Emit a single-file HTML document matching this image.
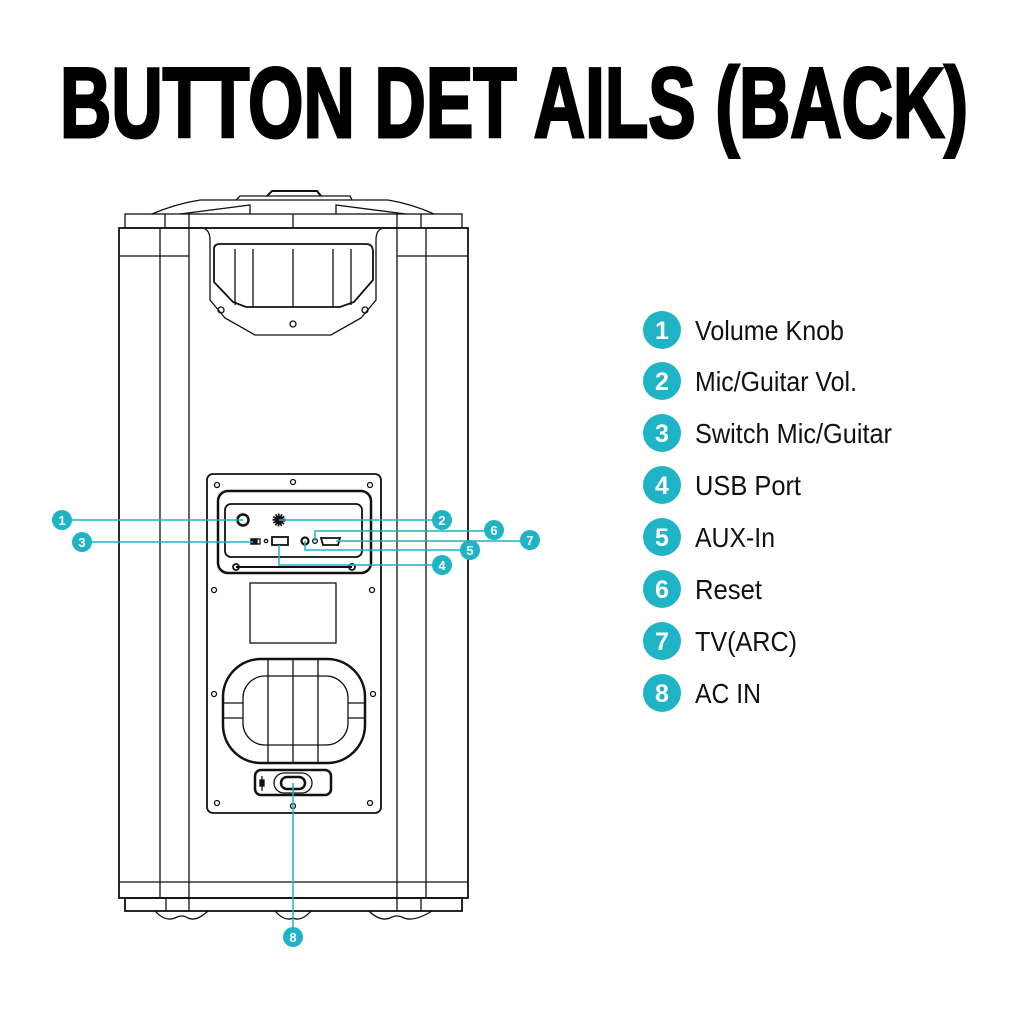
<!DOCTYPE html>
<html><head><meta charset="utf-8"><style>
html,body{margin:0;padding:0;background:#fff;width:1024px;height:1024px;overflow:hidden}
svg{display:block}
text{font-family:"Liberation Sans",sans-serif}
</style></head><body>
<svg width="1024" height="1024" viewBox="0 0 1024 1024" xmlns="http://www.w3.org/2000/svg">
<rect width="1024" height="1024" fill="#fff"/>
<text x="60" y="137" font-size="99" font-weight="bold" textLength="908" lengthAdjust="spacingAndGlyphs" stroke="#000" stroke-width="3">BUTTON DET AILS (BACK)</text>

<g fill="none" stroke="#111" stroke-width="1.3">
<!-- top knob / cap -->
<path d="M236 200 L240 196 L350 196 L352 200"/>
<path d="M267 196 L272 191 L317 191 L321 196" stroke-width="2"/>
<path d="M152 214 Q175 204 200 200 L388 200 Q412 204 434 214"/>
<path d="M180 214 L250 205 L250 214 M406 214 L336 205 L336 214"/>
<rect x="125" y="214" width="337" height="14"/>
<path d="M165 214 V228 M189 214 V228 M293 214 V228 M397 214 V228 M421 214 V228"/>
<!-- body -->
<rect x="119" y="228" width="349" height="670" stroke-width="1.8"/>
<path d="M160 228 V898 M189 228 V898 M397 228 V898 M426 228 V898"/>
<path d="M119 256 H189 M397 256 H468"/>
<path d="M119 882 H468"/>
<rect x="125" y="898" width="337" height="13" stroke-width="1.8"/>
<path d="M166 898 V911 M189 898 V911 M397 898 V911 M421 898 V911"/>
<path d="M155 911 Q165 922 175 918 Q182 914 188 918 Q196 922 208 911 M275 911 Q285 922 293 918 Q301 922 311 911 M369 911 Q380 922 390 918 Q397 914 404 918 Q414 922 432 911"/>
<!-- top handle -->
<path d="M189 228 H203 Q210 230 210 240 L210 300 L225 318 L255 335 L331 335 L361 318 L376 300 L376 240 Q376 230 383 228 H397"/>
<path d="M214 249 Q214 244 220 244 L366 244 Q373 244 373 252 L373 280 L354 302 L340 307 L246 307 L233 302 L214 282 Z" stroke-width="1.8"/>
<path d="M235 249 V305 M253 249 V307 M293 249 V307 M333 249 V307 M351 249 V305"/>
<circle cx="221" cy="310" r="3"/><circle cx="293" cy="324" r="3"/><circle cx="365" cy="310" r="3"/>
<!-- back panel -->
<rect x="207" y="474" width="174" height="339" rx="6" stroke-width="1.8"/>
<rect x="218" y="491" width="153" height="82" rx="10" stroke-width="2.5"/>
<rect x="225" y="504" width="137" height="53" rx="6" stroke-width="1.8"/>
<circle cx="217" cy="485" r="2.5"/><circle cx="293" cy="482" r="2.5"/><circle cx="370" cy="485" r="2.5"/>
<circle cx="214" cy="590" r="2.5"/><circle cx="372" cy="590" r="2.5"/>
<circle cx="214" cy="694" r="2.5"/><circle cx="373" cy="694" r="2.5"/>
<circle cx="217" cy="803" r="2.5"/><circle cx="370" cy="803" r="2.5"/><circle cx="293" cy="806" r="2.5"/>
<path d="M236 567 H352" stroke-width="2"/>
<circle cx="236" cy="567" r="3" stroke-width="1.8"/><circle cx="352" cy="567" r="3" stroke-width="1.8"/>
<rect x="250" y="583" width="86" height="60"/>
<!-- lower handle -->
<rect x="223" y="659" width="142" height="104" rx="38" stroke-width="2.5"/>
<rect x="243" y="676" width="105" height="69" rx="22"/>
<path d="M268 659 V763 M293 659 V763 M318 659 V763 M223 703 H243 M223 718 H243 M348 703 H365 M348 718 H365"/>
<!-- AC plug -->
<rect x="255" y="770" width="76" height="25" rx="6" stroke-width="2.5"/>
<rect x="274" y="773" width="38" height="20" rx="10"/>
<rect x="281" y="777" width="24" height="12" rx="6" stroke-width="2.5"/>
<path d="M262 776 V791"/><rect x="260" y="780" width="4" height="6" fill="#111"/>
<!-- ports -->
<circle cx="243" cy="520" r="5.5" stroke-width="2.5"/>
<circle cx="279" cy="520" r="5" stroke-width="3" stroke-dasharray="1.5 1"/>
<circle cx="279" cy="520" r="4" fill="#111"/>
<rect x="251" y="539" width="6" height="5" fill="#111"/><rect x="251" y="539" width="9" height="5"/>
<circle cx="266" cy="541" r="1.7"/>
<rect x="272" y="537" width="16" height="8" stroke-width="1.8"/>
<circle cx="305" cy="541" r="3.5" stroke-width="2.2"/>
<circle cx="315" cy="541" r="2.3"/>
<path d="M321 538 H340 L338 545 H323 Z" stroke-width="1.8"/>
</g>

<!-- callout lines -->
<g fill="none" stroke="#1fb3c6" stroke-width="1.5">
<path d="M70 520 H243"/>
<path d="M279 520 H434"/>
<path d="M90 542 H253"/>
<path d="M315 541 V531 H486"/>
<path d="M336 541 H522"/>
<path d="M305 541 V550 H462"/>
<path d="M279 545 V565 H434"/>
<path d="M293 783 V928"/>
</g>
<g fill="#1fb3c6">
<circle cx="62" cy="520" r="10"/><circle cx="442" cy="520" r="10"/><circle cx="82" cy="542" r="10"/>
<circle cx="494" cy="530" r="10"/><circle cx="530" cy="540" r="10"/><circle cx="470" cy="550" r="10"/>
<circle cx="442" cy="565" r="10"/><circle cx="293" cy="937" r="10"/>
</g>
<g fill="#fff" font-size="13" font-weight="bold" text-anchor="middle">
<text x="62" y="525">1</text><text x="442" y="525">2</text><text x="82" y="547">3</text>
<text x="494" y="535">6</text><text x="530" y="545">7</text><text x="470" y="555">5</text>
<text x="442" y="570">4</text><text x="293" y="942">8</text>
</g>

<!-- legend -->
<g fill="#1fb3c6">
<circle cx="662" cy="330" r="19"/><circle cx="662" cy="381" r="19"/><circle cx="662" cy="433" r="19"/><circle cx="662" cy="485" r="19"/>
<circle cx="662" cy="537" r="19"/><circle cx="662" cy="589" r="19"/><circle cx="662" cy="641" r="19"/><circle cx="662" cy="693" r="19"/>
</g>
<g fill="#fff" font-size="25" font-weight="bold" text-anchor="middle">
<text x="662" y="339">1</text><text x="662" y="390">2</text><text x="662" y="442">3</text><text x="662" y="494">4</text>
<text x="662" y="546">5</text><text x="662" y="598">6</text><text x="662" y="650">7</text><text x="662" y="702">8</text>
</g>
<g fill="#111" font-size="28">
<text x="695" y="340" textLength="149" lengthAdjust="spacingAndGlyphs">Volume Knob</text>
<text x="695" y="391" textLength="162" lengthAdjust="spacingAndGlyphs">Mic/Guitar Vol.</text>
<text x="695" y="443" textLength="197" lengthAdjust="spacingAndGlyphs">Switch Mic/Guitar</text>
<text x="695" y="495" textLength="106" lengthAdjust="spacingAndGlyphs">USB Port</text>
<text x="695" y="547" textLength="80" lengthAdjust="spacingAndGlyphs">AUX-In</text>
<text x="695" y="599" textLength="67" lengthAdjust="spacingAndGlyphs">Reset</text>
<text x="695" y="651" textLength="102" lengthAdjust="spacingAndGlyphs">TV(ARC)</text>
<text x="695" y="703" textLength="66" lengthAdjust="spacingAndGlyphs">AC IN</text>
</g>
</svg>
</body></html>
